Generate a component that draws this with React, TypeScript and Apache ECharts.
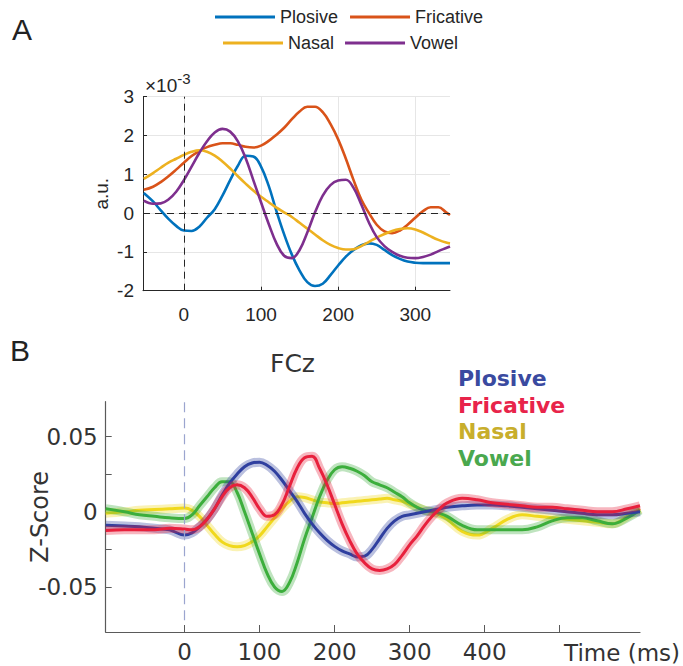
import React, { useEffect, useRef } from 'react';
import * as echarts from 'echarts';

// ---------- Panel A data (values in units of 1e-3, a.u.) ----------
const categories = ['Plosive', 'Fricative', 'Nasal', 'Vowel'];

const timeA = [-52, -40, -30, -20, -10, 0, 10, 20, 30, 40, 50, 60, 70, 80, 90, 100, 110, 120, 130, 140, 150, 160, 170, 180, 190, 200, 210, 220, 230, 240, 250, 260, 270, 280, 290, 300, 310, 320, 330, 340, 345];

const plosiveA = [0.52, 0.30, 0.07, -0.15, -0.33, -0.45, -0.46, -0.35, -0.12, 0.10, 0.45, 0.85, 1.22, 1.48, 1.46, 1.20, 0.70, 0.05, -0.55, -1.07, -1.48, -1.78, -1.88, -1.82, -1.60, -1.35, -1.12, -0.95, -0.83, -0.78, -0.82, -0.95, -1.08, -1.18, -1.25, -1.28, -1.29, -1.29, -1.29, -1.29, -1.29];
const fricativeA = [0.60, 0.68, 0.80, 0.95, 1.12, 1.30, 1.47, 1.60, 1.70, 1.76, 1.80, 1.80, 1.76, 1.71, 1.69, 1.74, 1.86, 2.02, 2.20, 2.42, 2.62, 2.74, 2.74, 2.60, 2.30, 1.90, 1.40, 0.85, 0.35, 0.00, -0.30, -0.47, -0.52, -0.45, -0.30, -0.12, 0.05, 0.15, 0.15, 0.02, -0.05];
const nasalA = [0.88, 1.03, 1.17, 1.30, 1.40, 1.50, 1.58, 1.62, 1.58, 1.48, 1.33, 1.15, 0.95, 0.76, 0.58, 0.42, 0.28, 0.14, 0.02, -0.10, -0.25, -0.40, -0.55, -0.70, -0.82, -0.90, -0.94, -0.93, -0.85, -0.74, -0.63, -0.54, -0.46, -0.41, -0.39, -0.42, -0.50, -0.60, -0.69, -0.76, -0.78];
const vowelA = [0.32, 0.24, 0.25, 0.35, 0.55, 0.85, 1.20, 1.55, 1.85, 2.08, 2.17, 2.10, 1.85, 1.42, 0.85, 0.28, -0.28, -0.78, -1.10, -1.16, -0.95, -0.50, 0.02, 0.45, 0.72, 0.84, 0.86, 0.65, 0.22, -0.25, -0.62, -0.85, -1.00, -1.10, -1.15, -1.16, -1.13, -1.07, -0.98, -0.90, -0.86];

const yTicksA = [-2, -1, 0, 1, 2, 3];

// ---------- Panel B data (Z-Score) ----------
const timeB = [-105, -80, -60, -40, -20, 0, 10, 20, 30, 40, 50, 60, 70, 80, 90, 100, 110, 120, 130, 140, 150, 160, 170, 180, 190, 200, 210, 220, 230, 240, 250, 260, 270, 280, 290, 300, 310, 320, 330, 340, 350, 370, 390, 410, 430, 450, 470, 490, 510, 530, 550, 570, 590, 607];

const plosiveB = [-0.009, -0.0095, -0.010, -0.011, -0.012, -0.0155, -0.014, -0.010, -0.005, 0.002, 0.011, 0.019, 0.025, 0.030, 0.0325, 0.033, 0.031, 0.027, 0.021, 0.014, 0.007, -0.001, -0.008, -0.014, -0.019, -0.023, -0.026, -0.028, -0.030, -0.0295, -0.025, -0.018, -0.011, -0.006, -0.003, -0.002, -0.001, 0.000, 0.001, 0.002, 0.003, 0.004, 0.0045, 0.0045, 0.004, 0.003, 0.002, 0.001, 0.000, -0.001, -0.002, -0.002, -0.001, 0.000];
const fricativeB = [-0.0125, -0.012, -0.012, -0.012, -0.011, -0.0115, -0.012, -0.010, -0.005, 0.002, 0.010, 0.016, 0.018, 0.016, 0.010, 0.002, -0.003, -0.002, 0.005, 0.017, 0.029, 0.036, 0.037, 0.029, 0.018, 0.005, -0.008, -0.019, -0.028, -0.034, -0.038, -0.039, -0.038, -0.035, -0.029, -0.022, -0.016, -0.009, -0.003, 0.002, 0.006, 0.009, 0.008, 0.006, 0.005, 0.004, 0.003, 0.003, 0.002, 0.001, 0.000, 0.000, 0.002, 0.004];
const nasalB = [-0.001, 0.000, 0.001, 0.0015, 0.002, 0.0025, 0.001, -0.003, -0.009, -0.015, -0.020, -0.0225, -0.0233, -0.0225, -0.020, -0.016, -0.010, -0.004, 0.002, 0.007, 0.010, 0.0095, 0.008, 0.0065, 0.006, 0.0055, 0.006, 0.0065, 0.007, 0.0075, 0.008, 0.0085, 0.009, 0.008, 0.007, 0.005, 0.003, 0.001, 0.000, -0.002, -0.005, -0.013, -0.0155, -0.011, -0.005, -0.002, -0.003, -0.004, -0.005, -0.006, -0.007, -0.008, -0.003, 0.002];
const vowelB = [0.002, 0.000, -0.002, -0.003, -0.004, -0.0045, -0.002, 0.004, 0.010, 0.016, 0.020, 0.020, 0.013, 0.000, -0.014, -0.028, -0.041, -0.050, -0.053, -0.047, -0.034, -0.018, -0.004, 0.010, 0.021, 0.028, 0.030, 0.029, 0.027, 0.024, 0.020, 0.018, 0.016, 0.013, 0.010, 0.006, 0.003, 0.001, 0.000, -0.001, -0.003, -0.009, -0.012, -0.012, -0.012, -0.012, -0.010, -0.006, -0.004, -0.004, -0.006, -0.008, -0.004, 0.001];

const xLabelsB = [0, 100, 200, 300, 400];
const xTicksB = [0, 100, 200, 300, 400, 500];
const yLabelsB = [-0.05, 0, 0.05];
const yTicksB = [-0.05, -0.025, 0, 0.025, 0.05];

const colorsA = ['#0072BD', '#D95319', '#EDB120', '#7E2F8E'];
const colorsB = ['#2f3f9f', '#e8203c', '#f0d81c', '#3cae3c'];
const legendColorsB = ['#3a4aa0', '#e8244a', '#c8ae2c', '#4aa84e'];

export default function App() {
  const ref = useRef<HTMLDivElement>(null);

  useEffect(() => {
    if (!ref.current) return;
    const chart = echarts.init(ref.current, null, { renderer: 'svg' });

    const valuesA = [plosiveA, fricativeA, nasalA, vowelA];
    const valuesB = [plosiveB, fricativeB, nasalB, vowelB];

    const seriesA: any[] = categories.map((name, i) => ({
      name,
      type: 'line',
      xAxisIndex: 0,
      yAxisIndex: 0,
      data: timeA.map((t, j) => [t, valuesA[i][j]]),
      symbol: 'none',
      smooth: 0.4,
      color: colorsA[i],
      lineStyle: { width: 2.6, color: colorsA[i] },
      emphasis: { disabled: true },
      z: 3,
    }));
    seriesA[0].markLine = {
      silent: true,
      symbol: ['none', 'none'],
      label: { show: false },
      lineStyle: { color: '#262626', type: [7, 5], width: 1 },
      emphasis: { disabled: true },
      data: [{ xAxis: 0 }, { yAxis: 0 }],
    };

    const orderB = [2, 3, 0, 1];
    const seriesB: any[] = [];
    orderB.forEach((i, k) => {
      const data = timeB.map((t, j) => [t, valuesB[i][j]]);
      const band: any = {
        name: categories[i],
        type: 'line',
        xAxisIndex: 1,
        yAxisIndex: 1,
        data,
        symbol: 'none',
        smooth: 0.4,
        silent: true,
        lineStyle: { width: 9, color: colorsB[i], opacity: 0.33 },
        emphasis: { disabled: true },
      };
      if (k === 0) {
        band.markLine = {
          silent: true,
          symbol: ['none', 'none'],
          label: { show: false },
          lineStyle: { color: '#9ba5cf', type: [10, 6], width: 1.2 },
          emphasis: { disabled: true },
          data: [[{ coord: [0, 0.073] }, { coord: [0, -0.074] }]],
        };
      }
      seriesB.push(band);
      seriesB.push({
        name: categories[i],
        type: 'line',
        xAxisIndex: 1,
        yAxisIndex: 1,
        data,
        symbol: 'none',
        smooth: 0.4,
        lineStyle: { width: 3, color: colorsB[i] },
        emphasis: { disabled: true },
      });
    });

    const fontA = 'Liberation Sans';
    const fontB = 'DejaVu Sans';

    chart.setOption({
      animation: false,
      backgroundColor: '#ffffff',
      title: [
        { text: 'A', left: 12, top: 14, padding: 0, textStyle: { fontFamily: fontA, fontSize: 30, fontWeight: 'normal', color: '#222' } },
        { text: 'B', left: 10, top: 335, padding: 0, textStyle: { fontFamily: fontA, fontSize: 30, fontWeight: 'normal', color: '#222' } },
        { text: 'FCz', left: 270, top: 351, padding: 0, textStyle: { fontFamily: fontB, fontSize: 25, fontWeight: 'normal', color: '#333' } },
      ],
      legend: [
        {
          data: ['Plosive', 'Fricative'], left: 215, top: 8, orient: 'horizontal', icon: 'rect',
          itemWidth: 60, itemHeight: 3, itemGap: 12, padding: 0, selectedMode: false,
          textStyle: { fontFamily: fontA, fontSize: 18, color: '#262626' },
        },
        {
          data: ['Nasal', 'Vowel'], left: 223, top: 34, orient: 'horizontal', icon: 'rect',
          itemWidth: 60, itemHeight: 3, itemGap: 11, padding: 0, selectedMode: false,
          textStyle: { fontFamily: fontA, fontSize: 18, color: '#262626' },
        },
        {
          data: categories.map((name, i) => ({ name, textStyle: { color: legendColorsB[i] } })),
          left: 453, top: 365, orient: 'vertical', icon: 'none',
          itemWidth: 0, itemHeight: 10, itemGap: 0, padding: 0, selectedMode: false,
          textStyle: { fontFamily: fontB, fontWeight: 'bold', fontSize: 22, lineHeight: 26.7 },
        },
      ],
      graphic: [
        {
          type: 'text', left: 145, top: 71, silent: true,
          style: {
            text: '{a|×10}{b|-3}',
            fill: '#262626',
            rich: {
              a: { fontFamily: fontA, fontSize: 19, lineHeight: 28, fill: '#262626' },
              b: { fontFamily: fontA, fontSize: 15, verticalAlign: 'top', fill: '#262626' },
            },
          },
        },
      ],
      grid: [
        { left: 143, top: 96.7, width: 307, height: 194 },
        { left: 105.7, top: 401.7, width: 534.3, height: 230.3 },
      ],
      xAxis: [
        {
          type: 'value', gridIndex: 0, min: -53, max: 345, minInterval: 100, maxInterval: 100,
          axisLine: { show: true, onZero: false, lineStyle: { color: '#262626', width: 1 } },
          axisTick: { show: true, inside: true, length: 4, lineStyle: { color: '#262626' } },
          axisLabel: { show: true, showMinLabel: false, showMaxLabel: false, margin: 14, fontFamily: fontA, fontSize: 19, color: '#262626' },
          splitLine: { show: true, showMinLine: false, showMaxLine: false, lineStyle: { color: '#e6e6e6', width: 1 } },
        },
        {
          type: 'value', gridIndex: 1, min: -105, max: 607,
          axisLine: { show: true, onZero: false, lineStyle: { color: '#5a5a5a', width: 1.2 } },
          axisTick: { show: true, inside: true, length: 7, customValues: xTicksB, lineStyle: { color: '#5a5a5a' } },
          axisLabel: { show: true, customValues: xLabelsB, margin: 8, fontFamily: fontB, fontSize: 23, color: '#333' },
          splitLine: { show: false },
          name: 'Time (ms)', nameLocation: 'end', nameGap: 40, nameMoveOverlap: false,
          nameTextStyle: { fontFamily: fontB, fontSize: 23, color: '#333', align: 'right', verticalAlign: 'top', padding: [9, 0, 0, 0] },
        },
      ],
      yAxis: [
        {
          type: 'value', gridIndex: 0, min: yTicksA[0], max: yTicksA[yTicksA.length - 1], interval: 1,
          axisLine: { show: true, onZero: false, lineStyle: { color: '#262626', width: 1 } },
          axisTick: { show: true, inside: true, length: 4, lineStyle: { color: '#262626' } },
          axisLabel: { show: true, margin: 9, fontFamily: fontA, fontSize: 19, color: '#262626' },
          splitLine: { show: true, lineStyle: { color: '#e6e6e6', width: 1 } },
          name: 'a.u.', nameLocation: 'middle', nameGap: 32, nameRotate: 90, nameMoveOverlap: false,
          nameTextStyle: { fontFamily: fontA, fontSize: 19, color: '#262626' },
        },
        {
          type: 'value', gridIndex: 1, min: -0.08, max: 0.0733,
          axisLine: { show: true, onZero: false, lineStyle: { color: '#5a5a5a', width: 1.2 } },
          axisTick: { show: true, inside: true, length: 6, customValues: yTicksB, lineStyle: { color: '#5a5a5a' } },
          axisLabel: {
            show: true, customValues: yLabelsB, margin: 8, fontFamily: fontB, fontSize: 23, color: '#333',
            formatter: (v: number) => (Math.abs(v) < 1e-9 ? '0' : String(v)),
          },
          splitLine: { show: false },
          name: 'Z-Score', nameLocation: 'middle', nameGap: 54, nameRotate: 90, nameMoveOverlap: false,
          nameTextStyle: { fontFamily: fontB, fontSize: 24, color: '#333' },
        },
      ],
      series: [...seriesA, ...seriesB],
    });

    return () => chart.dispose();
  }, []);

  return (
    <div
      ref={ref}
      style={{ position: 'fixed', left: 0, top: 0, width: 683, height: 666, background: '#fff' }}
    />
  );
}
